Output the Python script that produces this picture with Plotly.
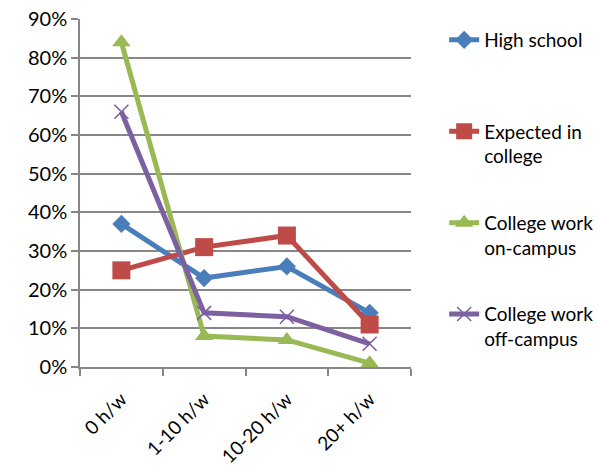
import plotly.graph_objects as go

categories = ["0 h/w", "1-10 h/w", "10-20 h/w", "20+ h/w"]
high_school = [0.37, 0.23, 0.26, 0.14]
expected_college = [0.25, 0.31, 0.34, 0.11]
work_on_campus = [0.84, 0.08, 0.07, 0.01]
work_off_campus = [0.66, 0.14, 0.13, 0.06]

series_names = ["High school<br> ", "Expected in<br>college",
                "College work<br>on-campus", "College work<br>off-campus"]
series_values = [high_school, expected_college, work_on_campus, work_off_campus]
colors = ["#4A7EBB", "#BE4B48", "#98B954", "#7D60A0"]
symbols = ["diamond", "square", "triangle-up", "x-thin"]
sizes = [14, 18, 16, 14]

FONT = "Lato, Open Sans, sans-serif"
GRID = "#878787"

fig = go.Figure()
for i, (name, vals, col, sym, sz) in enumerate(
        zip(series_names, series_values, colors, symbols, sizes)):
    marker = dict(symbol=sym, size=sz, color=col)
    if sym == "x-thin":
        marker["line"] = dict(color=col, width=1.6)
    fig.add_trace(go.Scatter(
        x=categories, y=vals, name=name, mode="lines+markers",
        legendgroup=f"g{i}",
        line=dict(color=col, width=5), marker=marker,
    ))

fig.update_layout(
    width=597, height=468,
    margin=dict(l=80, r=186, t=19, b=101, autoexpand=False),
    paper_bgcolor="white", plot_bgcolor="white",
    font=dict(family=FONT, size=19, color="#000000"),
    showlegend=True,
    legend=dict(
        xref="container", yref="container",
        x=0.744, xanchor="left", y=1 - 21 / 468, yanchor="top",
        font=dict(family=FONT, size=19, color="#000000"),
        valign="top", tracegroupgap=39, itemwidth=30,
        maxheight=440,
        bgcolor="rgba(0,0,0,0)",
    ),
    xaxis=dict(
        type="category", range=[-0.5, len(categories) - 0.5],
        tickangle=-45, showgrid=False, automargin=False,
        showline=True, linecolor=GRID, linewidth=1.5,
        ticks="outside", tickson="boundaries", ticklen=7, tickcolor=GRID, tickwidth=1.5,
        tickfont=dict(family=FONT, size=19), ticklabelstandoff=12,
    ),
    yaxis=dict(
        range=[0, 0.9], dtick=0.1, tickformat=".0%", automargin=False,
        showgrid=True, gridcolor=GRID, gridwidth=1.5,
        showline=True, linecolor=GRID, linewidth=1.5,
        ticks="outside", ticklen=7, tickcolor=GRID, tickwidth=1.5,
        zeroline=False, tickfont=dict(family=FONT, size=20),
    ),
)

fig.write_html("out.html")
